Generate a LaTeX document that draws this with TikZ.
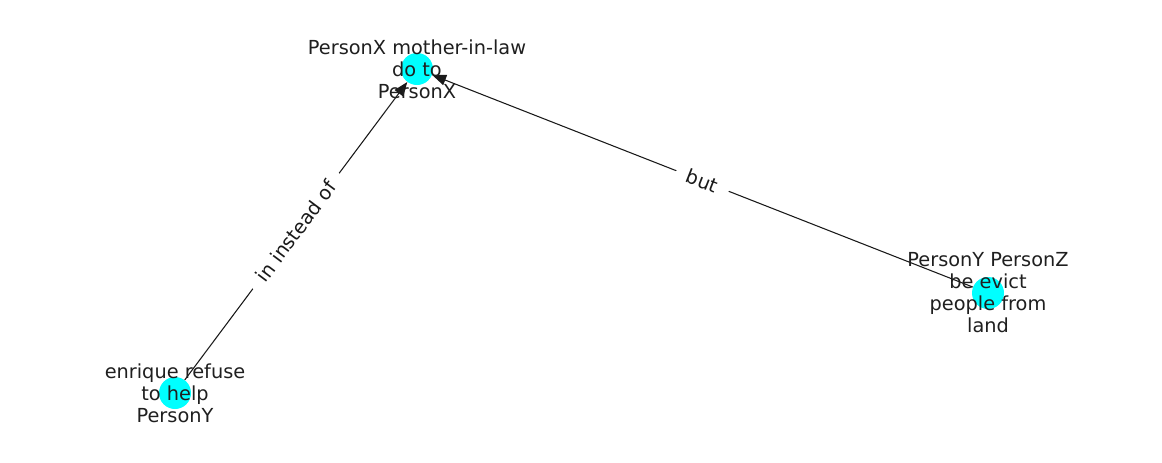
\documentclass[tikz,border=0pt]{standalone}
\usepackage{fontspec}
\setmainfont{DejaVu Sans}
\usetikzlibrary{arrows.meta}
\definecolor{aqua}{RGB}{0,255,255}
\begin{document}
\begin{tikzpicture}[x=0.75pt,y=-0.75pt,
  dot/.style={circle,fill=aqua,draw=none,inner sep=0pt,minimum size=24pt},
  vlabel/.style={align=center,inner sep=0pt,text=black!88,
    font=\fontsize{14.5}{16.5}\selectfont},
  link/.style={-{Triangle[length=10.5pt,width=8pt]},line width=0.8pt,black!90},
  elabel/.style={sloped,fill=white,inner xsep=9pt,inner ysep=2pt,text=black!90,
    font=\fontsize{14.5}{16}\selectfont}]
  \useasboundingbox (0,0) rectangle (1162,462);
  \node[dot] (law) at (417,69) {};
  \node[dot] (help) at (175,393) {};
  \node[dot] (evict) at (988,293) {};
  \draw[link] (help) -- node[elabel] {in instead of} (law);
  \draw[link] (evict) -- node[elabel] {but} (law);
  \node[vlabel] (lawtext) at (law) {PersonX mother-in-law\\do to\\PersonX};
  \node[vlabel] (helptext) at (help) {enrique refuse\\to help\\PersonY};
  \node[vlabel] (evicttext) at (evict) {PersonY PersonZ\\be evict\\people from\\land};
\end{tikzpicture}
\end{document}
